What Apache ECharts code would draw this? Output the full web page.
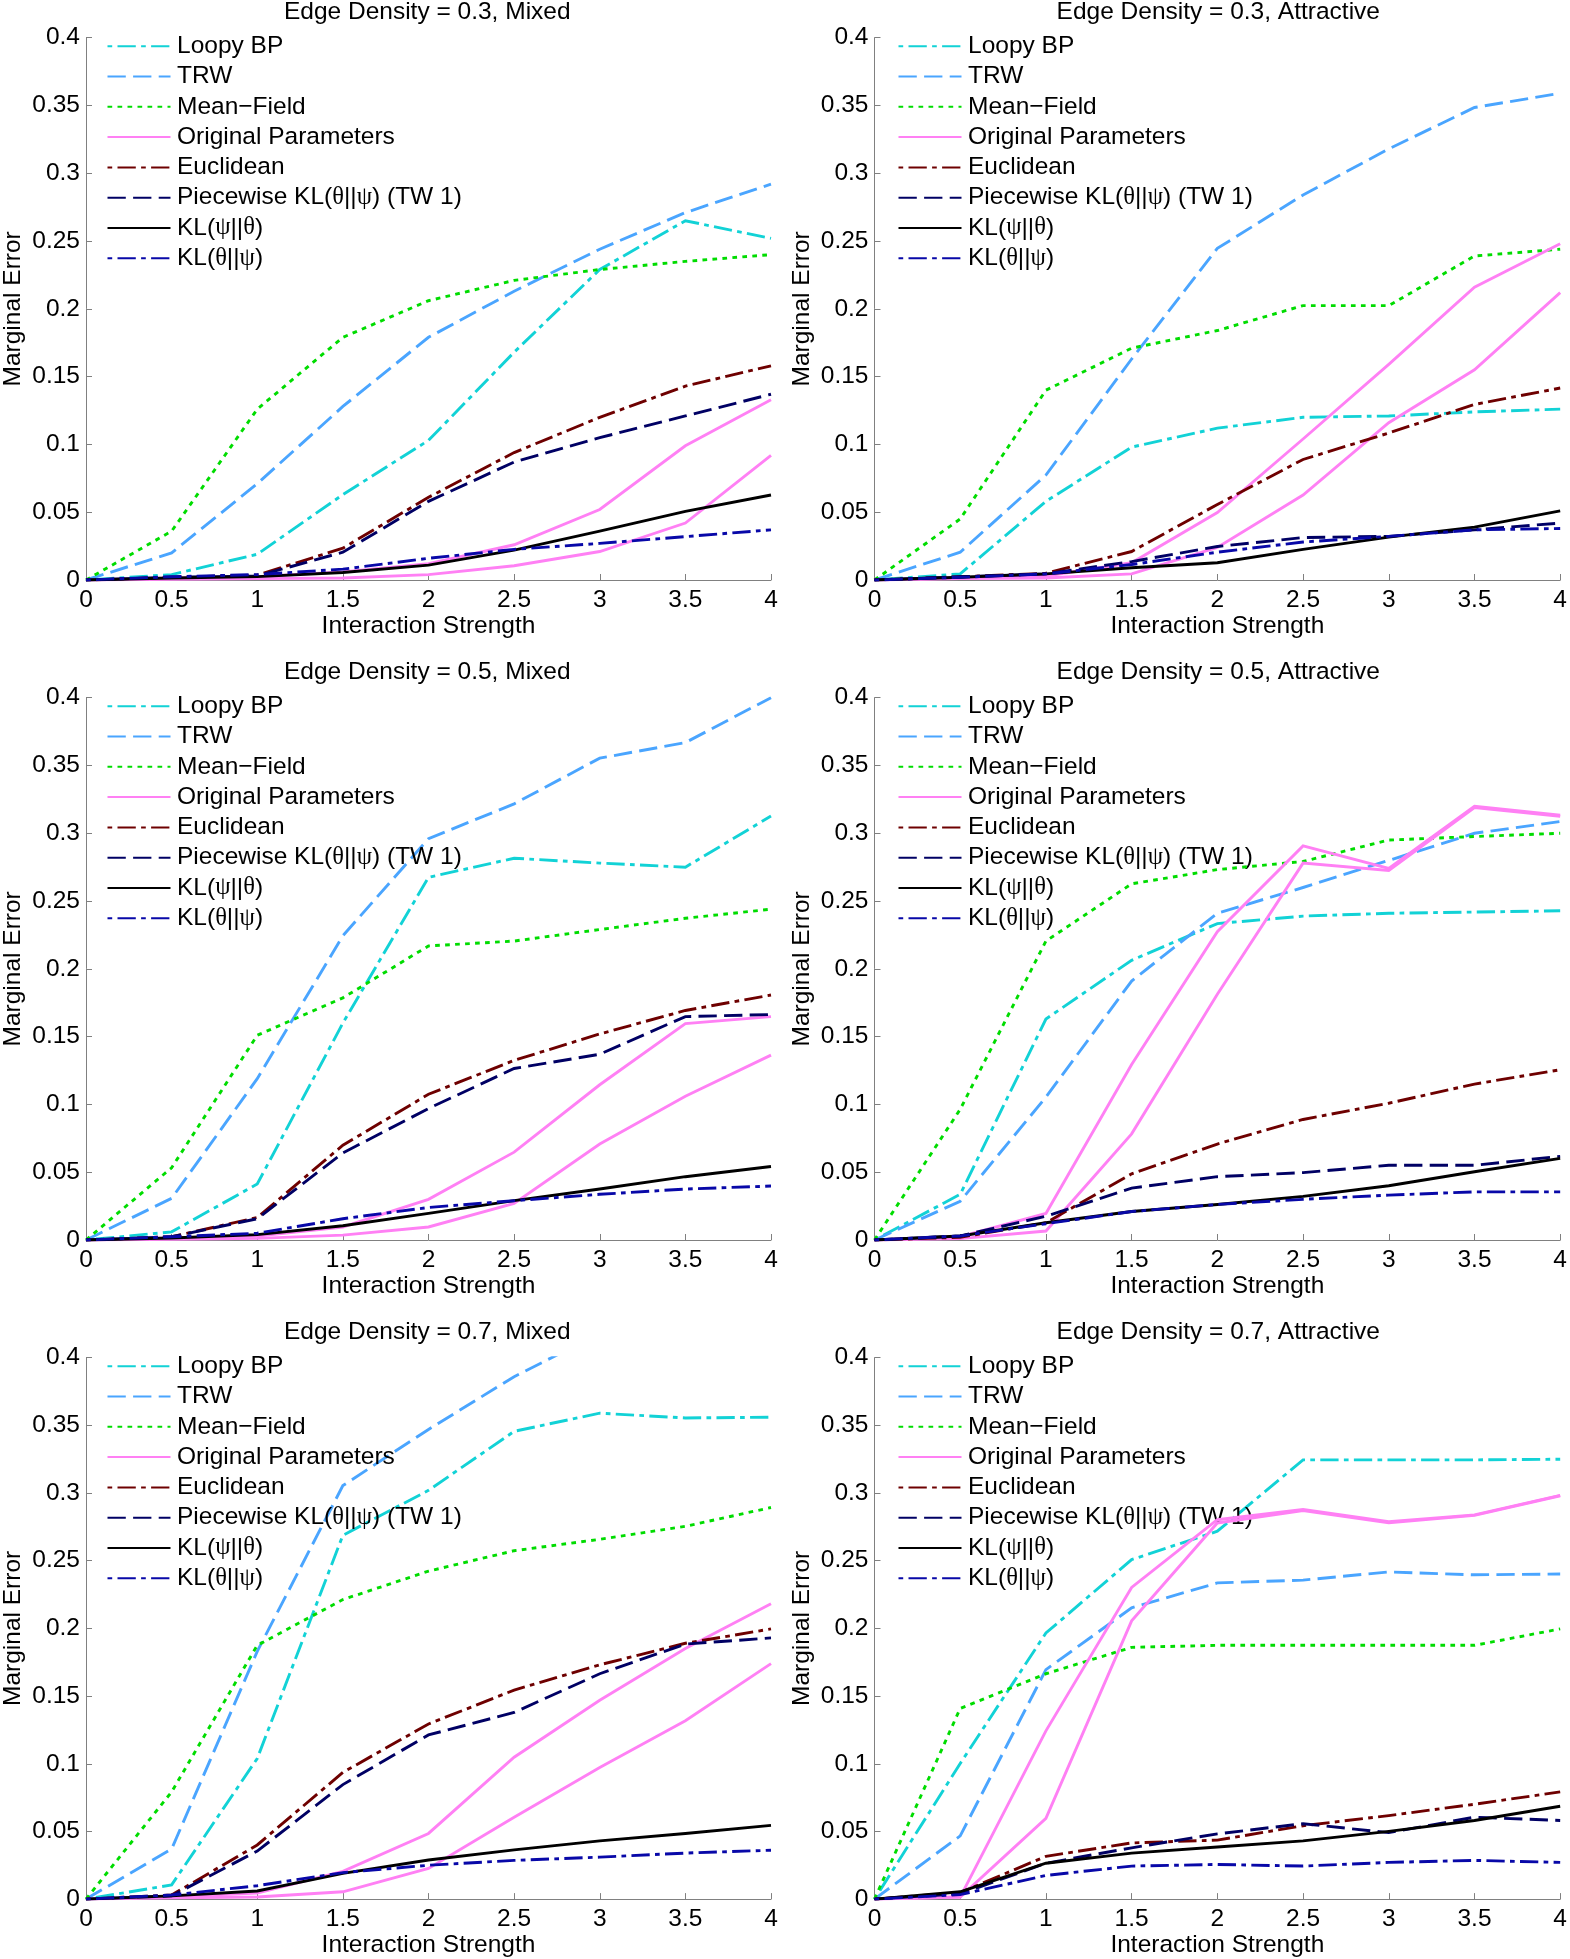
<!DOCTYPE html>
<html>
<head>
<meta charset="utf-8">
<script src="https://cdn.jsdelivr.net/npm/echarts@6/dist/echarts.min.js"></script>
<style>
html,body{margin:0;padding:0;background:#fff;}
#chart{width:1570px;height:1959px;}
</style>
</head>
<body>
<div id="chart"></div>
<script>
// ---------- data ----------
const xValues = [0, 0.5, 1, 1.5, 2, 2.5, 3, 3.5, 4];
const xTickLabels = ['0', '0.5', '1', '1.5', '2', '2.5', '3', '3.5', '4'];
const yTickLabels = ['0', '0.05', '0.1', '0.15', '0.2', '0.25', '0.3', '0.35', '0.4'];

const seriesNames = ['Loopy BP', 'TRW', 'Mean\u2212Field', 'Original Parameters', 'Euclidean',
  'Piecewise KL(θ||ψ) (TW 1)', 'KL(ψ||θ)', 'KL(θ||ψ)'];

const panelTitles = ['Edge Density = 0.3, Mixed', 'Edge Density = 0.3, Attractive',
  'Edge Density = 0.5, Mixed', 'Edge Density = 0.5, Attractive',
  'Edge Density = 0.7, Mixed', 'Edge Density = 0.7, Attractive'];

// Edge density 0.3, mixed
const m03_loopy = [0, 0.004, 0.019, 0.063, 0.103, 0.168, 0.229, 0.265, 0.252];
const m03_trw   = [0, 0.020, 0.071, 0.128, 0.179, 0.213, 0.244, 0.271, 0.292];
const m03_mf    = [0, 0.036, 0.126, 0.179, 0.206, 0.221, 0.229, 0.235, 0.240];
const m03_origA = [0, 0.0015, 0.0025, 0.006, 0.012, 0.026, 0.052, 0.099, 0.133];
const m03_origB = [0, 0.0006, 0.001, 0.0015, 0.004, 0.0105, 0.021, 0.042, 0.092];
const m03_euc   = [0, 0.002, 0.0036, 0.0235, 0.061, 0.094, 0.120, 0.143, 0.158];
const m03_pw    = [0, 0.002, 0.003, 0.0205, 0.058, 0.087, 0.105, 0.121, 0.137];
const m03_klPT  = [0, 0.0015, 0.0025, 0.0055, 0.011, 0.022, 0.036, 0.0506, 0.0627];
const m03_klTP  = [0, 0.0024, 0.004, 0.008, 0.016, 0.0226, 0.027, 0.032, 0.037];

// Edge density 0.3, attractive
const a03_loopy = [0, 0.0045, 0.058, 0.098, 0.112, 0.120, 0.121, 0.124, 0.126];
const a03_trw   = [0, 0.0205, 0.0774, 0.163, 0.2446, 0.284, 0.318, 0.3485, 0.359];
const a03_mf    = [0, 0.045, 0.140, 0.171, 0.184, 0.2024, 0.2024, 0.239, 0.244];
const a03_origA = [0, 0.0015, 0.003, 0.0127, 0.0497, 0.104, 0.159, 0.216, 0.248];
const a03_origB = [0, 0.001, 0.0015, 0.0045, 0.024, 0.0627, 0.116, 0.155, 0.212];
const a03_euc   = [0, 0.0024, 0.005, 0.021, 0.0557, 0.0889, 0.1084, 0.1295, 0.1416];
const a03_pw    = [0, 0.0024, 0.0045, 0.0136, 0.0247, 0.0313, 0.0322, 0.037, 0.042];
const a03_klPT  = [0, 0.002, 0.0045, 0.009, 0.0127, 0.0226, 0.0316, 0.039, 0.051];
const a03_klTP  = [0, 0.002, 0.0045, 0.0114, 0.0205, 0.028, 0.0322, 0.037, 0.038];

// Edge density 0.5, mixed
const m05_loopy = [0, 0.006, 0.0413, 0.160, 0.2675, 0.2816, 0.278, 0.275, 0.3127];
const m05_trw   = [0, 0.0307, 0.119, 0.2244, 0.296, 0.3217, 0.3554, 0.3669, 0.400];
const m05_mf    = [0, 0.0533, 0.151, 0.1786, 0.2169, 0.2205, 0.229, 0.2373, 0.244];
const m05_origA = [0, 0.0015, 0.003, 0.0096, 0.030, 0.0648, 0.1145, 0.1596, 0.1648];
const m05_origB = [0, 0.0006, 0.0012, 0.0036, 0.0096, 0.027, 0.0708, 0.106, 0.1364];
const m05_euc   = [0, 0.0024, 0.0166, 0.0699, 0.1075, 0.1325, 0.152, 0.1693, 0.1807];
const m05_pw    = [0, 0.0024, 0.0157, 0.0642, 0.097, 0.1265, 0.137, 0.1648, 0.1663];
const m05_klPT  = [0, 0.0015, 0.004, 0.0105, 0.0196, 0.029, 0.0376, 0.0467, 0.0542];
const m05_klTP  = [0, 0.0024, 0.005, 0.0157, 0.024, 0.029, 0.0337, 0.0376, 0.0398];

// Edge density 0.5, attractive
const a05_loopy = [0, 0.0337, 0.163, 0.2063, 0.2334, 0.2389, 0.241, 0.2419, 0.2428];
const a05_trw   = [0, 0.0286, 0.1054, 0.191, 0.241, 0.260, 0.280, 0.300, 0.3087];
const a05_mf    = [0, 0.0964, 0.2205, 0.2627, 0.2732, 0.2792, 0.295, 0.2976, 0.300];
const a05_origA = [0, 0.0024, 0.0196, 0.1295, 0.2274, 0.2907, 0.274, 0.320, 0.3133];
const a05_origB = [0, 0.001, 0.0066, 0.0783, 0.1813, 0.278, 0.2726, 0.319, 0.3125];
const a05_euc   = [0, 0.002, 0.0127, 0.0488, 0.0708, 0.0889, 0.1009, 0.115, 0.1256];
const a05_pw    = [0, 0.003, 0.0175, 0.0383, 0.0467, 0.0497, 0.0551, 0.0551, 0.0617];
const a05_klPT  = [0, 0.003, 0.0127, 0.021, 0.0262, 0.0322, 0.040, 0.0503, 0.0602];
const a05_klTP  = [0, 0.003, 0.012, 0.021, 0.0262, 0.030, 0.0331, 0.0355, 0.0355];

// Edge density 0.7, mixed (TRW leaves the axes above 0.4)
const m07_loopy = [0, 0.0105, 0.1039, 0.2688, 0.302, 0.3456, 0.359, 0.3555, 0.356];
const m07_trw   = [0, 0.037, 0.183, 0.3055, 0.347, 0.386, 0.418, 0.43, 0.44];
const m07_mf    = [0, 0.0792, 0.1875, 0.2213, 0.2423, 0.2574, 0.2658, 0.2754, 0.2893];
const m07_origA = [0, 0.0018, 0.0045, 0.0205, 0.0485, 0.1048, 0.1469, 0.1851, 0.2182];
const m07_origB = [0, 0.001, 0.0015, 0.0054, 0.0226, 0.0605, 0.0972, 0.1318, 0.174];
const m07_euc   = [0, 0.003, 0.040, 0.0936, 0.1294, 0.1544, 0.1731, 0.189, 0.1996];
const m07_pw    = [0, 0.0024, 0.0355, 0.0846, 0.1213, 0.1379, 0.1665, 0.1884, 0.193];
const m07_klPT  = [0, 0.0024, 0.006, 0.019, 0.0289, 0.0364, 0.043, 0.0485, 0.0545];
const m07_klTP  = [0, 0.003, 0.0099, 0.0196, 0.025, 0.0286, 0.031, 0.034, 0.0361];

// Edge density 0.7, attractive
const a07_loopy = [0, 0.1002, 0.1966, 0.2508, 0.2718, 0.3245, 0.3245, 0.3245, 0.325];
const a07_trw   = [0, 0.0467, 0.1695, 0.2152, 0.2336, 0.2357, 0.2417, 0.2396, 0.2402];
const a07_mf    = [0, 0.1409, 0.1665, 0.186, 0.1875, 0.1875, 0.1875, 0.1875, 0.1996];
const a07_origA = [0, 0.0015, 0.1243, 0.2303, 0.2803, 0.2878, 0.2788, 0.2839, 0.2983];
const a07_origB = [0, 0.0015, 0.0596, 0.2056, 0.2779, 0.2870, 0.2780, 0.2835, 0.2980];
const a07_euc   = [0, 0.0048, 0.0316, 0.0415, 0.0436, 0.0542, 0.0617, 0.0701, 0.0792];
const a07_pw    = [0, 0.0039, 0.0265, 0.0379, 0.0482, 0.0557, 0.0491, 0.0605, 0.0581];
const a07_klPT  = [0, 0.0054, 0.0265, 0.034, 0.0385, 0.043, 0.050, 0.0581, 0.0686];
const a07_klTP  = [0, 0.0033, 0.0175, 0.0244, 0.0256, 0.0244, 0.0271, 0.0286, 0.0271];

const panelData = [
  [m03_loopy, m03_trw, m03_mf, m03_origA, m03_origB, m03_euc, m03_pw, m03_klPT, m03_klTP],
  [a03_loopy, a03_trw, a03_mf, a03_origA, a03_origB, a03_euc, a03_pw, a03_klPT, a03_klTP],
  [m05_loopy, m05_trw, m05_mf, m05_origA, m05_origB, m05_euc, m05_pw, m05_klPT, m05_klTP],
  [a05_loopy, a05_trw, a05_mf, a05_origA, a05_origB, a05_euc, a05_pw, a05_klPT, a05_klTP],
  [m07_loopy, m07_trw, m07_mf, m07_origA, m07_origB, m07_euc, m07_pw, m07_klPT, m07_klTP],
  [a07_loopy, a07_trw, a07_mf, a07_origA, a07_origB, a07_euc, a07_pw, a07_klPT, a07_klTP]
];

// ---------- styles ----------
const FONT = 'Liberation Sans';
const FS = 24.5;
const LW = 2.9;
const dashDot = [4.7, 5.3, 18.3, 5.3];
const dashed = [18.3, 7.3];
const dotted = [4.7, 5.3];
// order in panelData: loopy, trw, mf, origA, origB, euc, pw, klPT, klTP
const lineStyles = [
  { name: seriesNames[0], color: '#12D2D6', type: dashDot },
  { name: seriesNames[1], color: '#4AA5FF', type: dashed },
  { name: seriesNames[2], color: '#00DC00', type: dotted },
  { name: seriesNames[3], color: '#FF80F4', type: 'solid' },
  { name: seriesNames[3], color: '#FF80F4', type: 'solid' },
  { name: seriesNames[4], color: '#6E0000', type: dashDot },
  { name: seriesNames[5], color: '#000064', type: dashed },
  { name: seriesNames[6], color: '#000000', type: 'solid' },
  { name: seriesNames[7], color: '#0808A8', type: dashDot }
];

const colLeft = [83.5, 874.5];
const plotW = 687.5;
const rowTop = [37.7, 697.7, 1357.7];
const plotH = 542.3;

const grids = [], xAxes = [], yAxes = [], series = [], legends = [], titles = [];
for (let p = 0; p < 6; p++) {
  const c = p % 2, r = Math.floor(p / 2);
  const L = colLeft[c], T = rowTop[r];
  grids.push({ left: L, top: T, width: plotW, height: plotH, containLabel: false });
  titles.push({
    text: panelTitles[p], left: L + plotW / 2, top: T - 38, textAlign: 'center', padding: 0,
    textStyle: { fontFamily: FONT, fontSize: FS, fontWeight: 'normal', color: '#000' }
  });
  xAxes.push({
    type: 'value', gridIndex: p, min: 0, max: 4, interval: 0.5,
    name: 'Interaction Strength', nameLocation: 'middle', nameGap: 30,
    nameTextStyle: { fontFamily: FONT, fontSize: FS, color: '#000' },
    axisLine: { show: true, onZero: false, lineStyle: { color: '#808080', width: 1 } },
    axisTick: { show: true, inside: true, length: 6, lineStyle: { color: '#808080', width: 1 } },
    axisLabel: { fontFamily: FONT, fontSize: FS, color: '#000', margin: 8,
      formatter: v => xTickLabels[Math.round(v / 0.5)] },
    splitLine: { show: false }
  });
  yAxes.push({
    type: 'value', gridIndex: p, min: 0, max: 0.4, interval: 0.05,
    name: 'Marginal Error', nameLocation: 'middle', nameGap: 60,
    nameTextStyle: { fontFamily: FONT, fontSize: FS, color: '#000' },
    axisLine: { show: true, onZero: false, lineStyle: { color: '#808080', width: 1 } },
    axisTick: { show: true, inside: true, length: 6, lineStyle: { color: '#808080', width: 1 } },
    axisLabel: { fontFamily: FONT, fontSize: FS, color: '#000', margin: 6,
      formatter: v => yTickLabels[Math.round(v / 0.05)] },
    splitLine: { show: false }
  });
  panelData[p].forEach((arr, k) => {
    const st = lineStyles[k];
    series.push({
      type: 'line', name: st.name, xAxisIndex: p, yAxisIndex: p,
      data: xValues.map((x, j) => [x, arr[j]]),
      symbol: 'none', showSymbol: false, clip: true, silent: true,
      lineStyle: { color: st.color, width: LW, type: st.type, cap: 'butt', join: 'miter' },
      itemStyle: { color: st.color },
      z: 2 + k
    });
  });
  legends.push({
    orient: 'vertical', left: L + 23, top: T - 4, padding: 0,
    itemWidth: 63, itemHeight: 14, itemGap: 5.3, selectedMode: false,
    data: seriesNames,
    itemStyle: { opacity: 0 },
    formatter: name => name.replace(/([θψ])/g, '{g|$1}'),
    textStyle: { fontFamily: FONT, fontSize: FS, color: '#000', lineHeight: 24, padding: [0, 0, 0, 1.5],
      rich: { g: { fontFamily: 'Liberation Serif', fontSize: FS, lineHeight: 24, color: '#000' } } }
  });
}

const chart = echarts.init(document.getElementById('chart'), null, { renderer: 'canvas', width: 1570, height: 1959 });
chart.setOption({
  animation: false,
  backgroundColor: '#ffffff',
  title: titles,
  grid: grids,
  xAxis: xAxes,
  yAxis: yAxes,
  legend: legends,
  series: series
});
</script>
</body>
</html>
